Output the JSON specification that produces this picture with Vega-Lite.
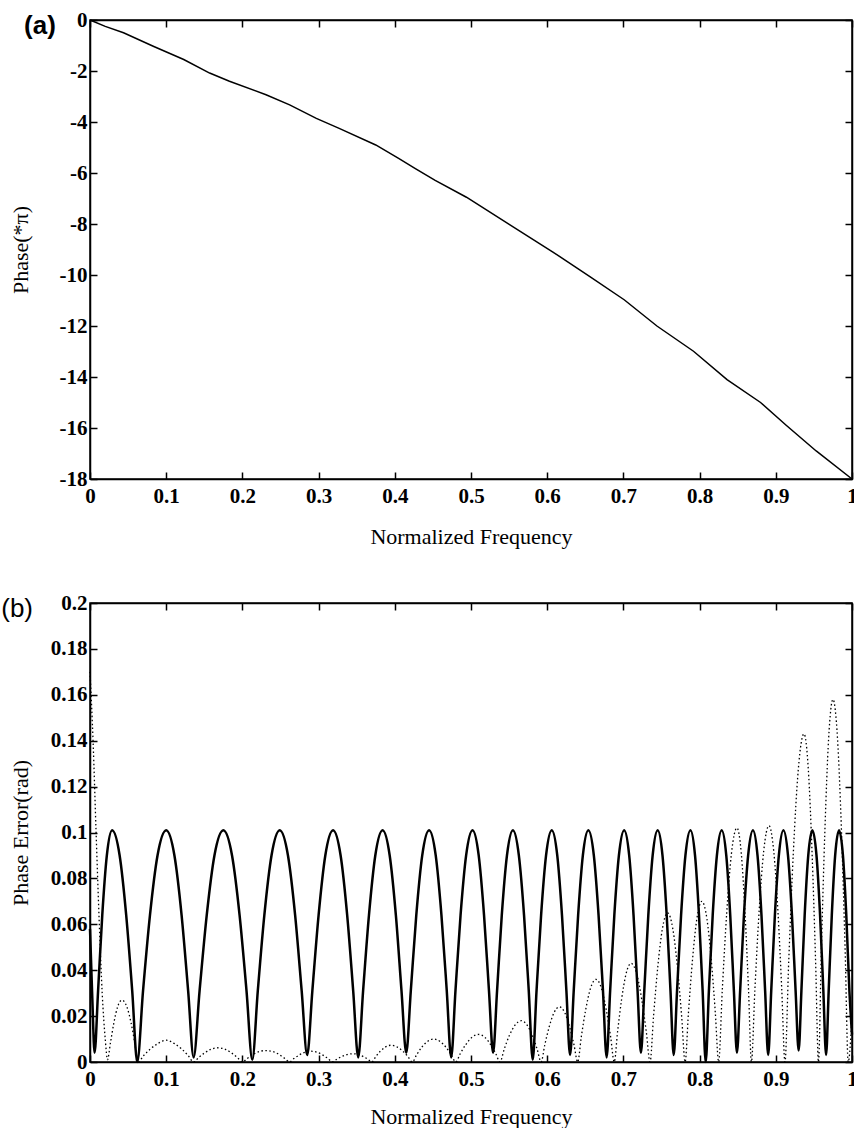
{
"$schema": "https://vega.github.io/schema/vega-lite/v6.json",
"padding": {"left": 0, "top": 8, "right": 0, "bottom": 0},
"spacing": 43,
"config": {
  "view": {"stroke": "black", "strokeWidth": 1.5},
  "axis": {"domainColor": "black", "domainWidth": 1.5, "tickColor": "black", "tickWidth": 1.5, "tickSize": -7, "labelFont": "Liberation Serif", "labelFontWeight": "bold", "labelFontSize": 21, "labelColor": "black", "labelPadding": 10, "labelFlush": false, "labelOverlap": false, "titleFont": "Liberation Serif", "titleFontWeight": "normal", "titleFontSize": 22, "titleColor": "black", "grid": false}
},
"datasets": {
  "phase": [
    {"f":0,"p":0},{"f":0.02,"p":-0.25},{"f":0.044,"p":-0.5},{"f":0.083,"p":-1.03},{"f":0.123,"p":-1.55},{"f":0.157,"p":-2.08},{"f":0.183,"p":-2.4},{"f":0.231,"p":-2.93},{"f":0.262,"p":-3.33},{"f":0.297,"p":-3.86},{"f":0.327,"p":-4.25},{"f":0.375,"p":-4.9},{"f":0.405,"p":-5.43},{"f":0.427,"p":-5.83},{"f":0.453,"p":-6.29},{"f":0.494,"p":-6.95},{"f":0.607,"p":-9.09},{"f":0.656,"p":-10.06},{"f":0.701,"p":-10.97},{"f":0.744,"p":-12.0},{"f":0.792,"p":-12.99},{"f":0.836,"p":-14.1},{"f":0.88,"p":-15.0},{"f":0.914,"p":-15.9},{"f":0.953,"p":-16.9},{"f":1,"p":-18}
  ],
  "solid": [
    {"f":0,"e":0.058},{"f":0.003,"e":0.028},{"f":0.006,"e":0.004},
    {"f":0.0106,"e":0.031},{"f":0.0161,"e":0.064},{"f":0.0221,"e":0.09},{"f":0.029,"e":0.101},{"f":0.0389,"e":0.09},{"f":0.0475,"e":0.064},{"f":0.0554,"e":0.031},{"f":0.062,"e":0},
    {"f":0.0696,"e":0.031},{"f":0.0787,"e":0.064},{"f":0.0886,"e":0.09},{"f":0.1,"e":0.101},{"f":0.1108,"e":0.09},{"f":0.1202,"e":0.064},{"f":0.1288,"e":0.031},{"f":0.136,"e":0.002},
    {"f":0.1438,"e":0.031},{"f":0.1532,"e":0.064},{"f":0.1633,"e":0.09},{"f":0.175,"e":0.101},{"f":0.1864,"e":0.09},{"f":0.1963,"e":0.064},{"f":0.2054,"e":0.031},{"f":0.213,"e":0.001},
    {"f":0.2202,"e":0.031},{"f":0.2288,"e":0.064},{"f":0.2382,"e":0.09},{"f":0.249,"e":0.101},{"f":0.2598,"e":0.09},{"f":0.2692,"e":0.064},{"f":0.2778,"e":0.031},{"f":0.285,"e":0.003},
    {"f":0.2918,"e":0.031},{"f":0.3,"e":0.064},{"f":0.3088,"e":0.09},{"f":0.319,"e":0.101},{"f":0.3289,"e":0.09},{"f":0.3375,"e":0.064},{"f":0.3454,"e":0.031},{"f":0.352,"e":0.002},
    {"f":0.3584,"e":0.031},{"f":0.3661,"e":0.064},{"f":0.3744,"e":0.09},{"f":0.384,"e":0.101},{"f":0.3933,"e":0.09},{"f":0.4014,"e":0.064},{"f":0.4088,"e":0.031},{"f":0.415,"e":0.004},
    {"f":0.421,"e":0.031},{"f":0.4282,"e":0.064},{"f":0.436,"e":0.09},{"f":0.445,"e":0.101},{"f":0.4537,"e":0.09},{"f":0.4612,"e":0.064},{"f":0.4682,"e":0.031},{"f":0.474,"e":0.002},
    {"f":0.4796,"e":0.031},{"f":0.4863,"e":0.064},{"f":0.4936,"e":0.09},{"f":0.502,"e":0.101},{"f":0.5101,"e":0.09},{"f":0.5171,"e":0.064},{"f":0.5236,"e":0.031},{"f":0.529,"e":0.004},
    {"f":0.5342,"e":0.031},{"f":0.5404,"e":0.064},{"f":0.5472,"e":0.09},{"f":0.555,"e":0.101},{"f":0.5628,"e":0.09},{"f":0.5696,"e":0.064},{"f":0.5758,"e":0.031},{"f":0.581,"e":0.001},
    {"f":0.586,"e":0.031},{"f":0.592,"e":0.064},{"f":0.5985,"e":0.09},{"f":0.606,"e":0.101},{"f":0.6132,"e":0.09},{"f":0.6194,"e":0.064},{"f":0.6252,"e":0.031},{"f":0.63,"e":0.003},
    {"f":0.6348,"e":0.031},{"f":0.6406,"e":0.064},{"f":0.6468,"e":0.09},{"f":0.654,"e":0.101},{"f":0.6612,"e":0.09},{"f":0.6674,"e":0.064},{"f":0.6732,"e":0.031},{"f":0.678,"e":0.002},
    {"f":0.6826,"e":0.031},{"f":0.6881,"e":0.064},{"f":0.6941,"e":0.09},{"f":0.701,"e":0.101},{"f":0.7076,"e":0.09},{"f":0.7133,"e":0.064},{"f":0.7186,"e":0.031},{"f":0.723,"e":0.004},
    {"f":0.7274,"e":0.031},{"f":0.7327,"e":0.064},{"f":0.7384,"e":0.09},{"f":0.745,"e":0.101},{"f":0.7513,"e":0.09},{"f":0.7568,"e":0.064},{"f":0.7618,"e":0.031},{"f":0.766,"e":0.003},
    {"f":0.7704,"e":0.031},{"f":0.7757,"e":0.064},{"f":0.7814,"e":0.09},{"f":0.788,"e":0.101},{"f":0.794,"e":0.09},{"f":0.7992,"e":0.064},{"f":0.804,"e":0.031},{"f":0.808,"e":0},
    {"f":0.8122,"e":0.031},{"f":0.8172,"e":0.064},{"f":0.8227,"e":0.09},{"f":0.829,"e":0.101},{"f":0.835,"e":0.09},{"f":0.8402,"e":0.064},{"f":0.845,"e":0.031},{"f":0.849,"e":0.004},
    {"f":0.8532,"e":0.031},{"f":0.8582,"e":0.064},{"f":0.8637,"e":0.09},{"f":0.87,"e":0.101},{"f":0.876,"e":0.09},{"f":0.8812,"e":0.064},{"f":0.886,"e":0.031},{"f":0.89,"e":0.003},
    {"f":0.894,"e":0.031},{"f":0.8988,"e":0.064},{"f":0.904,"e":0.09},{"f":0.91,"e":0.101},{"f":0.916,"e":0.09},{"f":0.9212,"e":0.064},{"f":0.926,"e":0.031},{"f":0.93,"e":0.005},
    {"f":0.9336,"e":0.031},{"f":0.9379,"e":0.064},{"f":0.9426,"e":0.09},{"f":0.948,"e":0.101},{"f":0.9534,"e":0.09},{"f":0.9581,"e":0.064},{"f":0.9624,"e":0.031},{"f":0.966,"e":0.003},
    {"f":0.9694,"e":0.031},{"f":0.9735,"e":0.064},{"f":0.9779,"e":0.09},{"f":0.983,"e":0.101},{"f":0.9881,"e":0.09},{"f":0.9925,"e":0.064},{"f":0.9966,"e":0.031},{"f":1,"e":0.012}
  ],
  "dotted": [
    {"f":0,"e":0.17},{"f":0.004,"e":0.14},{"f":0.008,"e":0.1},{"f":0.012,"e":0.062},{"f":0.016,"e":0.03},{"f":0.02,"e":0.01},{"f":0.023,"e":0.001},
    {"f":0.0268,"e":0.0083},{"f":0.0314,"e":0.0172},{"f":0.0363,"e":0.0241},{"f":0.042,"e":0.027},{"f":0.0483,"e":0.0241},{"f":0.0538,"e":0.0172},{"f":0.0588,"e":0.0083},{"f":0.063,"e":0},
    {"f":0.0704,"e":0.0028},{"f":0.0793,"e":0.0057},{"f":0.0889,"e":0.008},{"f":0.1,"e":0.0095},{"f":0.1108,"e":0.008},{"f":0.1202,"e":0.0057},{"f":0.1288,"e":0.0028},{"f":0.136,"e":0},
    {"f":0.1424,"e":0.0019},{"f":0.1501,"e":0.0039},{"f":0.1584,"e":0.0055},{"f":0.168,"e":0.0062},{"f":0.1776,"e":0.0055},{"f":0.1859,"e":0.0039},{"f":0.1936,"e":0.0019},{"f":0.2,"e":0},
    {"f":0.2062,"e":0.0015},{"f":0.2136,"e":0.0032},{"f":0.2217,"e":0.0045},{"f":0.231,"e":0.005},{"f":0.2403,"e":0.0045},{"f":0.2484,"e":0.0032},{"f":0.2558,"e":0.0015},{"f":0.262,"e":0},
    {"f":0.2676,"e":0.0015},{"f":0.2743,"e":0.003},{"f":0.2816,"e":0.0042},{"f":0.29,"e":0.0047},{"f":0.2984,"e":0.0042},{"f":0.3057,"e":0.003},{"f":0.3124,"e":0.0015},{"f":0.318,"e":0},
    {"f":0.3234,"e":0.0011},{"f":0.3299,"e":0.0023},{"f":0.3369,"e":0.0032},{"f":0.345,"e":0.0036},{"f":0.3525,"e":0.0032},{"f":0.359,"e":0.0023},{"f":0.365,"e":0.0011},{"f":0.37,"e":0},
    {"f":0.375,"e":0.0023},{"f":0.381,"e":0.0047},{"f":0.3875,"e":0.0065},{"f":0.395,"e":0.0073},{"f":0.4034,"e":0.0065},{"f":0.4107,"e":0.0047},{"f":0.4174,"e":0.0023},{"f":0.423,"e":0},
    {"f":0.4286,"e":0.0031},{"f":0.4353,"e":0.0064},{"f":0.4426,"e":0.0089},{"f":0.451,"e":0.01},{"f":0.4597,"e":0.0089},{"f":0.4672,"e":0.0064},{"f":0.4742,"e":0.0031},{"f":0.48,"e":0},
    {"f":0.486,"e":0.0037},{"f":0.4932,"e":0.0076},{"f":0.501,"e":0.0107},{"f":0.51,"e":0.012},{"f":0.5184,"e":0.0107},{"f":0.5257,"e":0.0076},{"f":0.5324,"e":0.0037},{"f":0.538,"e":0},
    {"f":0.5436,"e":0.0056},{"f":0.5503,"e":0.0115},{"f":0.5576,"e":0.016},{"f":0.566,"e":0.018},{"f":0.5738,"e":0.016},{"f":0.5806,"e":0.0115},{"f":0.5868,"e":0.0056},{"f":0.592,"e":0},
    {"f":0.5968,"e":0.0074},{"f":0.6026,"e":0.0153},{"f":0.6088,"e":0.0214},{"f":0.616,"e":0.024},{"f":0.6232,"e":0.0214},{"f":0.6294,"e":0.0153},{"f":0.6352,"e":0.0074},{"f":0.64,"e":0},
    {"f":0.6448,"e":0.0111},{"f":0.6506,"e":0.0229},{"f":0.6568,"e":0.0321},{"f":0.664,"e":0.036},{"f":0.6712,"e":0.0321},{"f":0.6774,"e":0.0229},{"f":0.6832,"e":0.0111},{"f":0.688,"e":0},
    {"f":0.6924,"e":0.0133},{"f":0.6977,"e":0.0274},{"f":0.7034,"e":0.0383},{"f":0.71,"e":0.043},{"f":0.7175,"e":0.0383},{"f":0.724,"e":0.0274},{"f":0.73,"e":0.0133},{"f":0.735,"e":0},
    {"f":0.7396,"e":0.0201},{"f":0.7451,"e":0.0414},{"f":0.7511,"e":0.0579},{"f":0.758,"e":0.065},{"f":0.7649,"e":0.0579},{"f":0.7709,"e":0.0414},{"f":0.7764,"e":0.0201},{"f":0.781,"e":0},
    {"f":0.7854,"e":0.0216},{"f":0.7907,"e":0.0446},{"f":0.7964,"e":0.0624},{"f":0.803,"e":0.07},{"f":0.8096,"e":0.0624},{"f":0.8153,"e":0.0446},{"f":0.8206,"e":0.0216},{"f":0.825,"e":0},
    {"f":0.8298,"e":0.0315},{"f":0.8356,"e":0.065},{"f":0.8418,"e":0.0909},{"f":0.849,"e":0.102},{"f":0.8547,"e":0.0909},{"f":0.8596,"e":0.065},{"f":0.8642,"e":0.0315},{"f":0.868,"e":0},
    {"f":0.8726,"e":0.0318},{"f":0.8781,"e":0.0656},{"f":0.8841,"e":0.0918},{"f":0.891,"e":0.103},{"f":0.8973,"e":0.0918},{"f":0.9028,"e":0.0656},{"f":0.9078,"e":0.0318},{"f":0.912,"e":0},
    {"f":0.917,"e":0.0442},{"f":0.923,"e":0.0911},{"f":0.9295,"e":0.1274},{"f":0.937,"e":0.143},{"f":0.9427,"e":0.1274},{"f":0.9476,"e":0.0911},{"f":0.9522,"e":0.0442},{"f":0.956,"e":0},
    {"f":0.9598,"e":0.0488},{"f":0.9644,"e":0.1006},{"f":0.9693,"e":0.1408},{"f":0.975,"e":0.158},{"f":0.981,"e":0.1408},{"f":0.9862,"e":0.1006},{"f":0.991,"e":0.0488},{"f":0.995,"e":0},{"f":1,"e":0.02}
  ]
},
"vconcat": [
  {
    "width": 762, "height": 459,
    "title": {"text": "(a)", "anchor": "start", "frame": "bounds", "font": "Liberation Sans", "fontSize": 26, "fontWeight": "bold", "color": "black", "offset": 0, "dx": 15, "dy": 30},
    "data": {"name": "phase"},
    "layer": [
      {"mark": {"type": "line", "color": "black", "strokeWidth": 1.5},
       "encoding": {
         "x": {"field": "f", "type": "quantitative", "scale": {"domain": [0, 1], "nice": false}, "axis": {"orient": "bottom", "values": [0,0.1,0.2,0.3,0.4,0.5,0.6,0.7,0.8,0.9,1], "format": "~g", "labelPadding": 13, "title": "Normalized Frequency", "titlePadding": 20}},
         "y": {"field": "p", "type": "quantitative", "scale": {"domain": [-18, 0], "nice": false, "zero": false}, "axis": {"orient": "left", "values": [-18,-16,-14,-12,-10,-8,-6,-4,-2,0], "labelExpr": "datum.value + ''", "title": "Phase(*π)", "titlePadding": 27}}
       }},
      {"mark": {"type": "line", "opacity": 0},
       "encoding": {
         "x": {"field": "f", "type": "quantitative", "axis": {"orient": "top", "values": [0,0.1,0.2,0.3,0.4,0.5,0.6,0.7,0.8,0.9,1], "labels": false, "title": null}},
         "y": {"field": "p", "type": "quantitative", "axis": {"orient": "right", "values": [-18,-16,-14,-12,-10,-8,-6,-4,-2,0], "labels": false, "title": null}}
       }}
    ],
    "resolve": {"axis": {"x": "independent", "y": "independent"}}
  },
  {
    "width": 762, "height": 459,
    "title": {"text": "(b)", "anchor": "start", "frame": "bounds", "font": "Liberation Sans", "fontSize": 26, "fontWeight": "normal", "color": "black", "offset": 0, "dx": -8, "dy": 30},
    "layer": [
      {"data": {"name": "solid"},
       "mark": {"type": "line", "color": "black", "strokeWidth": 2.5, "interpolate": "monotone"},
       "encoding": {
         "x": {"field": "f", "type": "quantitative", "scale": {"domain": [0, 1], "nice": false}, "axis": {"orient": "bottom", "values": [0,0.1,0.2,0.3,0.4,0.5,0.6,0.7,0.8,0.9,1], "format": "~g", "labelPadding": 13, "title": "Normalized Frequency", "titlePadding": 17}},
         "y": {"field": "e", "type": "quantitative", "scale": {"domain": [0, 0.2], "nice": false}, "axis": {"orient": "left", "values": [0,0.02,0.04,0.06,0.08,0.1,0.12,0.14,0.16,0.18,0.2], "format": "~g", "title": "Phase Error(rad)", "titlePadding": 18}}
       }},
      {"data": {"name": "dotted"},
       "mark": {"type": "line", "color": "black", "strokeWidth": 1.3, "strokeDash": [1.5, 2.5], "interpolate": "monotone"},
       "encoding": {
         "x": {"field": "f", "type": "quantitative", "axis": {"orient": "top", "values": [0,0.1,0.2,0.3,0.4,0.5,0.6,0.7,0.8,0.9,1], "labels": false, "title": null}},
         "y": {"field": "e", "type": "quantitative", "axis": {"orient": "right", "values": [0,0.02,0.04,0.06,0.08,0.1,0.12,0.14,0.16,0.18,0.2], "labels": false, "title": null}}
       }}
    ],
    "resolve": {"axis": {"x": "independent", "y": "independent"}}
  }
]
}
